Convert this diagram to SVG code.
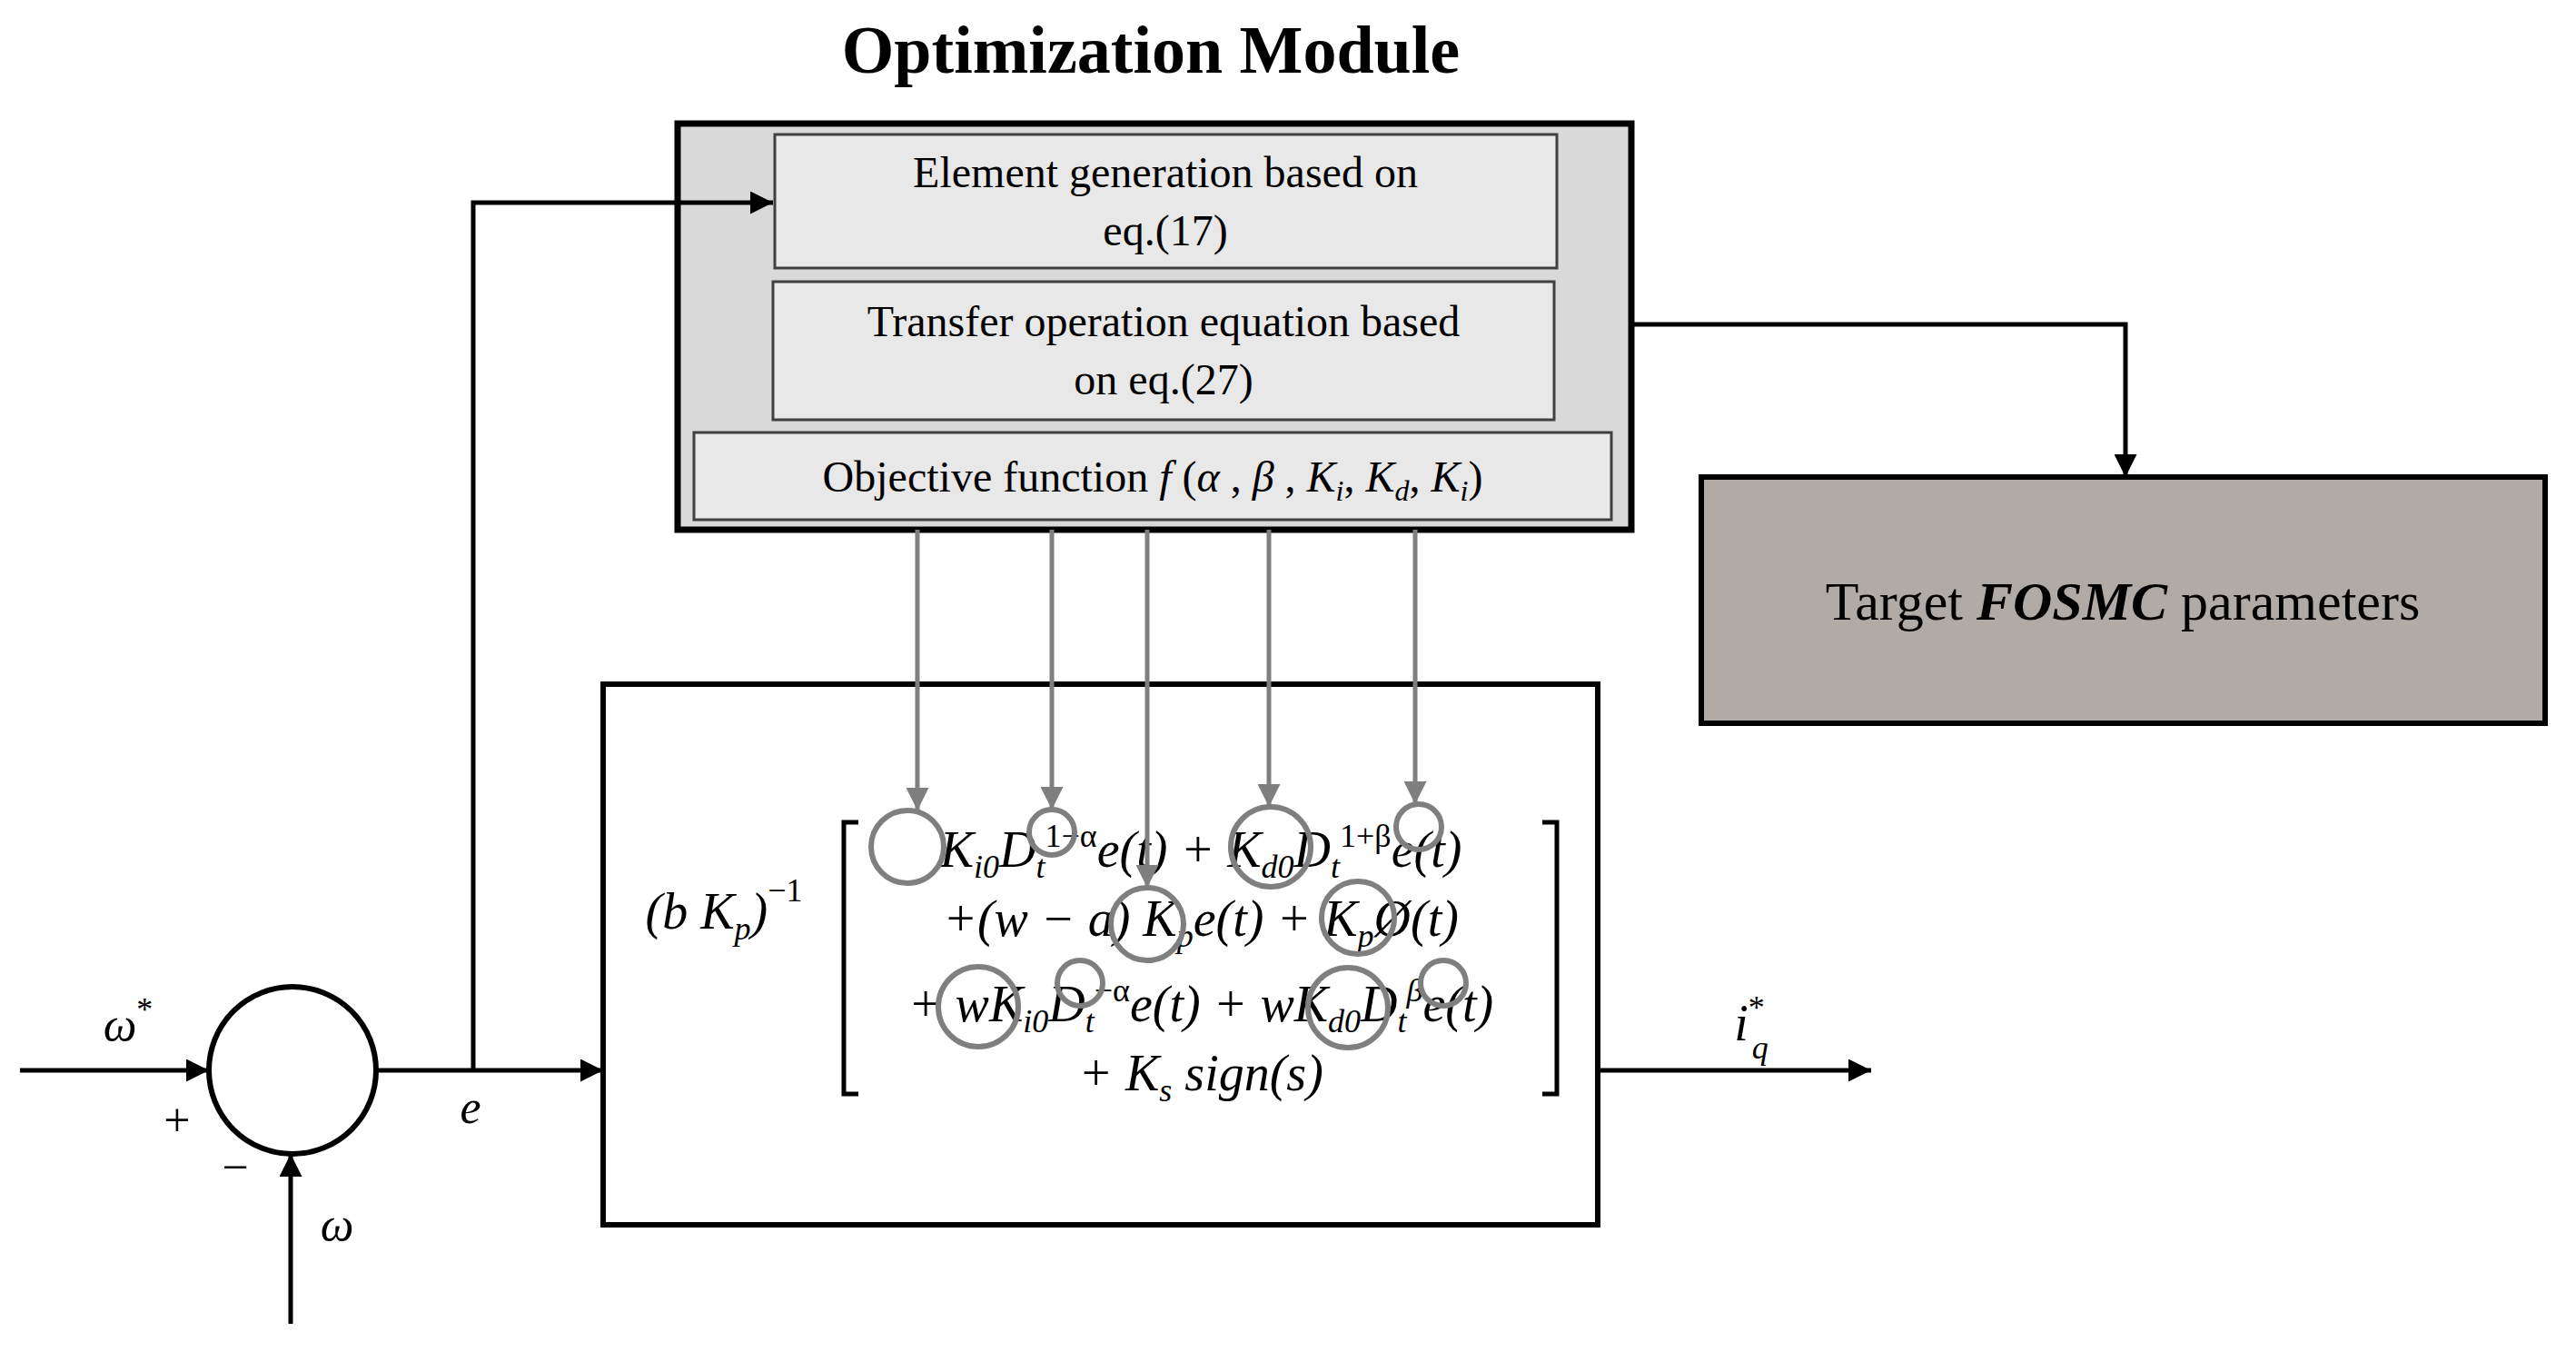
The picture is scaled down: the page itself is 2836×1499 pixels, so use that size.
<svg xmlns="http://www.w3.org/2000/svg" width="2836" height="1499" viewBox="0 0 2836 1499">
<defs>
<marker id="ab" viewBox="0 0 10 10" refX="10" refY="5" markerWidth="6" markerHeight="6" orient="auto" markerUnits="userSpaceOnUse"><path d="M0,0 L10,5 L0,10 z" fill="#000"/></marker>
<marker id="ag" viewBox="0 0 10 10" refX="10" refY="5" markerWidth="5" markerHeight="5" orient="auto"><path d="M0,0 L10,5 L0,10 z" fill="#7f7f7f"/></marker>
<marker id="abk" viewBox="0 0 10 10" refX="10" refY="5" markerWidth="5" markerHeight="5" orient="auto"><path d="M0,0 L10,5 L0,10 z" fill="#000"/></marker>
</defs>
<style>
text{font-family:"Liberation Serif",serif;fill:#000}
.lbl{font-size:48px;text-anchor:middle}
.m{font-size:56px;font-style:italic;text-anchor:middle}
.c{fill:none;stroke:#7f7f7f;stroke-width:6}
.k{stroke:#000;stroke-width:5;fill:none}
.g{stroke:#7f7f7f;stroke-width:5;fill:none}
</style>
<text x="1267" y="80" font-size="74" font-weight="bold" text-anchor="middle">Optimization Module</text>
<g id="opt">
<rect x="746" y="136" width="1050" height="447" fill="#d9d9d9" stroke="#000" stroke-width="7"/>
<rect x="853" y="148" width="861" height="147" fill="#e8e8e8" stroke="#404040" stroke-width="3"/>
<text class="lbl" x="1283" y="206">Element generation based on</text>
<text class="lbl" x="1283" y="270">eq.(17)</text>
<rect x="851" y="310" width="860" height="152" fill="#e8e8e8" stroke="#404040" stroke-width="3"/>
<text class="lbl" x="1281" y="370">Transfer operation equation based</text>
<text class="lbl" x="1281" y="434">on eq.(27)</text>
<rect x="764" y="476" width="1010" height="96" fill="#e8e8e8" stroke="#404040" stroke-width="3"/>
<text class="lbl" x="1269" y="541">Objective function <tspan font-style="italic">f</tspan> (<tspan font-style="italic">α</tspan> , <tspan font-style="italic">β</tspan> , <tspan font-style="italic">K<tspan font-size="32" dy="10">i</tspan></tspan><tspan dy="-10">, </tspan><tspan font-style="italic">K<tspan font-size="32" dy="10">d</tspan></tspan><tspan dy="-10">, </tspan><tspan font-style="italic">K<tspan font-size="32" dy="10">i</tspan></tspan><tspan dy="-10">)</tspan></text>
</g>
<g id="target">
<rect x="1873" y="525" width="929" height="271" fill="#b0aba7" stroke="#000" stroke-width="6"/>
<text x="2337" y="682" font-size="60" text-anchor="middle">Target <tspan font-weight="bold" font-style="italic">FOSMC</tspan> parameters</text>
</g>
<g id="controller">
<rect x="664" y="753" width="1095" height="595" fill="#fff" stroke="#000" stroke-width="6"/>
<text class="m" x="797" y="1022">(<tspan>b K</tspan><tspan font-size="36" dy="12">p</tspan><tspan dy="-12">)</tspan><tspan font-size="36" dy="-30" font-style="normal">−1</tspan></text>
<path d="M945,905 H929 V1204 H945 M1698,905 H1714 V1204 H1698" class="k" stroke-width="4"/>
<text class="m" x="1322" y="954">K<tspan font-size="36" dy="12">i0</tspan><tspan dy="-12">D</tspan><tspan font-size="36" dy="12">t</tspan><tspan font-size="36" dy="-34" font-style="normal">1−α</tspan><tspan dy="22">e(t) +  K</tspan><tspan font-size="36" dy="12">d0</tspan><tspan dy="-12">D</tspan><tspan font-size="36" dy="12">t</tspan><tspan font-size="36" dy="-34" font-style="normal">1+β</tspan><tspan dy="22">e(t)</tspan></text>
<text class="m" x="1322" y="1030">+(w − a) K<tspan font-size="36" dy="12">p</tspan><tspan dy="-12">e(t) + K</tspan><tspan font-size="36" dy="12">p</tspan><tspan dy="-12">Ø(t)</tspan></text>
<text class="m" x="1322" y="1124">+ wK<tspan font-size="36" dy="12">i0</tspan><tspan dy="-12">D</tspan><tspan font-size="36" dy="12">t</tspan><tspan font-size="36" dy="-34" font-style="normal">−α</tspan><tspan dy="22">e(t) +  wK</tspan><tspan font-size="36" dy="12">d0</tspan><tspan dy="-12">D</tspan><tspan font-size="36" dy="12">t</tspan><tspan font-size="36" dy="-34">β</tspan><tspan dy="22">e(t)</tspan></text>
<text class="m" x="1322" y="1200">+ K<tspan font-size="36" dy="12">s</tspan><tspan dy="-12"> sign(s)</tspan></text>
<circle class="c" cx="999" cy="932" r="40"/>
<circle class="c" cx="1158" cy="916" r="25"/>
<circle class="c" cx="1399" cy="932" r="44"/>
<circle class="c" cx="1562" cy="910" r="25"/>
<circle class="c" cx="1263" cy="1017" r="40"/>
<circle class="c" cx="1495" cy="1010" r="40"/>
<circle class="c" cx="1077" cy="1108" r="44"/>
<circle class="c" cx="1189" cy="1082" r="25"/>
<circle class="c" cx="1484" cy="1109" r="44"/>
<circle class="c" cx="1589" cy="1082" r="25"/>
</g>
<g id="sum">
<circle cx="322" cy="1178" r="92" fill="#fff" stroke="#000" stroke-width="6"/>
<text x="195" y="1250" font-size="52" text-anchor="middle">+</text>
<text x="259" y="1302" font-size="52" text-anchor="middle">−</text>
</g>
<g id="connectors">
<line x1="22" y1="1178" x2="230" y2="1178" class="k" marker-end="url(#abk)"/>
<line x1="320" y1="1457" x2="320" y2="1270" class="k" marker-end="url(#abk)"/>
<line x1="414" y1="1178" x2="664" y2="1178" class="k" marker-end="url(#abk)"/>
<polyline points="521,1178 521,223 851,223" class="k" marker-end="url(#abk)"/>
<line x1="1759" y1="1178" x2="2060" y2="1178" class="k" marker-end="url(#abk)"/>
<polyline points="1796,357 2340,357 2340,525" class="k" marker-end="url(#abk)"/>
<line x1="1010" y1="583" x2="1010" y2="892" class="g" marker-end="url(#ag)"/>
<line x1="1158" y1="583" x2="1158" y2="891" class="g" marker-end="url(#ag)"/>
<line x1="1263" y1="583" x2="1263" y2="977" class="g" marker-end="url(#ag)"/>
<line x1="1397" y1="583" x2="1397" y2="888" class="g" marker-end="url(#ag)"/>
<line x1="1558" y1="583" x2="1558" y2="885" class="g" marker-end="url(#ag)"/>
</g>
<text x="141" y="1145" font-size="52" font-style="italic" text-anchor="middle">ω<tspan font-size="36" dy="-22" font-style="normal">*</tspan></text>
<text x="371" y="1365" font-size="52" font-style="italic" text-anchor="middle">ω</text>
<text x="518" y="1236" font-size="52" font-style="italic" text-anchor="middle">e</text>
<text x="1928" y="1145" font-size="56" font-style="italic" text-anchor="middle">i<tspan font-size="36" dy="-24" font-style="normal">*</tspan><tspan font-size="36" dx="-14" dy="44">q</tspan></text>
</svg>
